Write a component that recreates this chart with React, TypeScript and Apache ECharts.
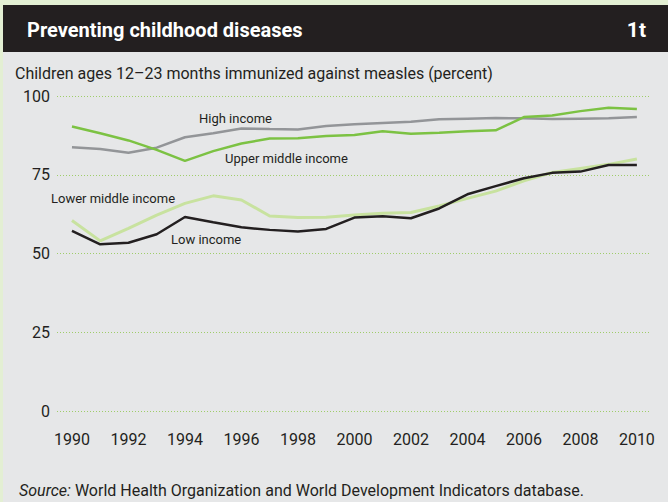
import React, { useEffect, useRef } from "react";
import * as echarts from "echarts";

const years = [1990, 1991, 1992, 1993, 1994, 1995, 1996, 1997, 1998, 1999, 2000, 2001, 2002, 2003, 2004, 2005, 2006, 2007, 2008, 2009, 2010];
const highIncome = [83.7, 83.2, 82.0, 83.6, 86.9, 88.2, 89.7, 89.5, 89.4, 90.5, 91.0, 91.4, 91.8, 92.6, 92.8, 93.0, 92.9, 92.7, 92.8, 92.9, 93.3];
const upperMiddle = [90.3, 88.2, 85.9, 82.9, 79.4, 82.5, 84.9, 86.5, 86.6, 87.3, 87.6, 88.8, 88.0, 88.3, 88.8, 89.1, 93.3, 93.8, 95.2, 96.3, 95.9];
const lowerMiddle = [60.5, 54.0, 58.0, 62.2, 65.9, 68.3, 67.0, 61.9, 61.4, 61.5, 62.2, 62.8, 63.0, 65.1, 67.5, 69.8, 73.1, 75.7, 77.0, 78.3, 80.0];
const lowIncome = [57.2, 52.9, 53.4, 56.1, 61.6, 59.9, 58.3, 57.5, 57.0, 57.8, 61.4, 61.8, 61.2, 64.3, 68.8, 71.4, 73.9, 75.6, 76.0, 78.1, 78.1];
const xTickLabels = [1990, 1992, 1994, 1996, 1998, 2000, 2002, 2004, 2006, 2008, 2010];

const title = "Preventing childhood diseases";
const badge = "1t";
const subtitle = "Children ages 12\u201323 months immunized against measles (percent)";

const FONT = "Roboto, 'Noto Sans', sans-serif";

export default function App() {
  const ref = useRef<HTMLDivElement>(null);
  useEffect(() => {
    if (!ref.current) return;
    const chart = echarts.init(ref.current, null, { renderer: "svg" });
    const pairs = (arr: number[]) => years.map((y, i) => [y, arr[i]]);
    const line = (name: string, data: number[], color: string, width: number, z: number) => ({
      name,
      type: "line",
      data: pairs(data),
      symbol: "none",
      lineStyle: { color, width },
      z,
    });
    chart.setOption({
      animation: false,
      backgroundColor: "#e6e7e8",
      grid: { left: 57, right: 17, top: 96, bottom: 91 },
      xAxis: {
        type: "value",
        min: 1989.47,
        max: 2010.5,
        axisLine: { show: false },
        axisTick: { show: false },
        splitLine: { show: false },
        axisLabel: {
          customValues: xTickLabels,
          formatter: (v: number) => String(v),
          color: "#231f20",
          fontSize: 16,
          fontFamily: FONT,
          margin: 20,
        },
      },
      yAxis: {
        type: "value",
        min: 0,
        max: 100,
        interval: 25,
        axisLine: { show: false },
        axisTick: { show: false },
        axisLabel: { color: "#231f20", fontSize: 16, fontFamily: FONT, margin: 7 },
        splitLine: { lineStyle: { color: "#9fcd6a", type: [1, 2], width: 1 } },
      },
      graphic: [
        { type: "rect", shape: { x: 0, y: 0, width: 668, height: 5 }, style: { fill: "#e3efd3" }, z: 0 },
        { type: "rect", shape: { x: 0, y: 0, width: 3, height: 502 }, style: { fill: "#e3efd3" }, z: 0 },
        { type: "rect", shape: { x: 3, y: 5, width: 665, height: 47 }, style: { fill: "#231f20" }, z: 0 },
        { type: "text", x: 27, y: 30, style: { text: title, fill: "#ffffff", font: `bold 20px ${FONT}`, textVerticalAlign: "middle" } },
        { type: "text", x: 646, y: 30, style: { text: badge, fill: "#ffffff", font: `bold 21px ${FONT}`, textAlign: "right", textVerticalAlign: "middle" } },
        { type: "text", x: 15, y: 73, style: { text: subtitle, fill: "#231f20", font: `16px ${FONT}`, textVerticalAlign: "middle" } },
        { type: "text", x: 199, y: 118, style: { text: "High income", fill: "#231f20", font: `13px ${FONT}`, textVerticalAlign: "middle" } },
        { type: "text", x: 225, y: 158, style: { text: "Upper middle income", fill: "#231f20", font: `13px ${FONT}`, textVerticalAlign: "middle" } },
        { type: "text", x: 51, y: 198, style: { text: "Lower middle income", fill: "#231f20", font: `13px ${FONT}`, textVerticalAlign: "middle" } },
        { type: "text", x: 171, y: 239, style: { text: "Low income", fill: "#231f20", font: `13px ${FONT}`, textVerticalAlign: "middle" } },
        {
          type: "text",
          x: 19,
          y: 490,
          style: {
            text: "{i|Source:} World Health Organization and World Development Indicators database.",
            fill: "#231f20",
            font: `16px ${FONT}`,
            textVerticalAlign: "middle",
            rich: { i: { fontStyle: "italic", fontSize: 16, fontFamily: FONT, fill: "#231f20" } },
          },
        },
      ],
      series: [
        line("Lower middle income", lowerMiddle, "#c8e29f", 3, 2),
        line("High income", highIncome, "#939598", 2.5, 3),
        line("Upper middle income", upperMiddle, "#7cc243", 2.5, 4),
        line("Low income", lowIncome, "#231f20", 2.5, 5),
      ],
    });
    return () => chart.dispose();
  }, []);
  return <div ref={ref} style={{ position: "fixed", left: 0, top: 0, width: 668, height: 502 }} />;
}
